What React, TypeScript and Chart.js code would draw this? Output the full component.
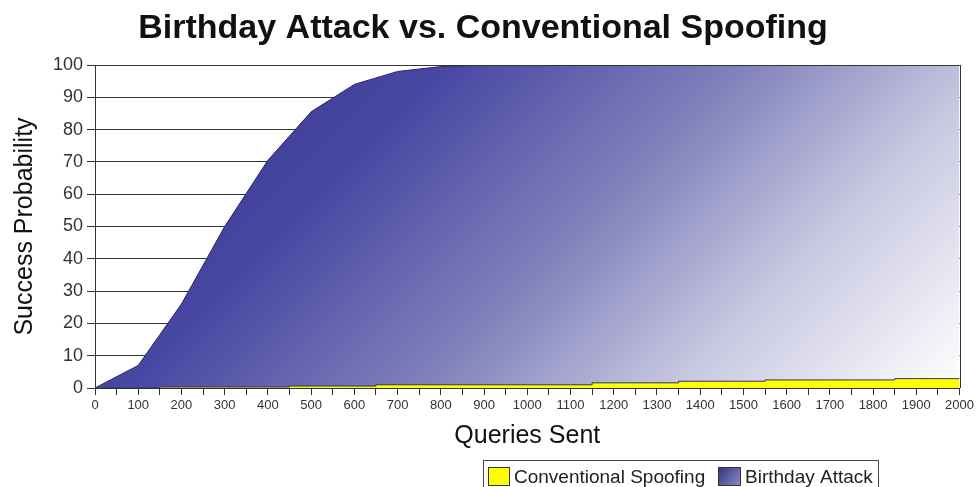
import React, { useEffect, useRef } from 'react';
import { Chart, registerables } from 'chart.js';

Chart.register(...registerables);

const FONT = "'Liberation Sans', Arial, Helvetica, sans-serif";

const chartTitle = 'Birthday Attack vs. Conventional Spoofing';
const xAxisTitle = 'Queries Sent';
const yAxisTitle = 'Success Probability';
const seriesLabels = ['Conventional Spoofing', 'Birthday Attack'];

const queries = [0, 100, 200, 300, 400, 500, 600, 700, 800, 900, 1000, 1100, 1200, 1300, 1400, 1500, 1600, 1700, 1800, 1900, 2000];
const birthdayAttack = [0, 7, 26, 50, 70.5, 85.5, 94, 98, 99.5, 100, 100, 100, 100, 100, 100, 100, 100, 100, 100, 100, 100];
const conventionalSpoofing = [0, 0, 0.3, 0.3, 0.3, 0.6, 0.6, 1.0, 1.0, 1.0, 1.0, 1.0, 1.6, 1.6, 2.1, 2.1, 2.5, 2.5, 2.5, 2.9, 2.9];

const xMin = 0;
const xMax = 2000;
const xMinorStep = 50;
const xLabelStep = 100;
const yMin = 0;
const yMax = 100;
const yStep = 10;

function blueGradient(ctx: CanvasRenderingContext2D, area: { left: number; top: number; right: number; bottom: number }) {
  const d = (area.right - area.left + area.bottom - area.top) / 2;
  const g = ctx.createLinearGradient(area.left, area.top, area.left + d, area.top + d);
  g.addColorStop(0, '#34348a');
  g.addColorStop(0.3, '#4848a3');
  g.addColorStop(0.55, '#8282bc');
  g.addColorStop(0.76, '#c8c8e2');
  g.addColorStop(1, '#ffffff');
  return g;
}

const framePlugin = {
  id: 'frameAndLegend',
  afterDatasetsDraw(chart: any) {
    const { ctx, chartArea } = chart;
    ctx.save();
    ctx.strokeStyle = '#333';
    ctx.lineWidth = 1;
    ctx.beginPath();
    ctx.moveTo(Math.round(chartArea.right) + 0.5, chartArea.top);
    ctx.lineTo(Math.round(chartArea.right) + 0.5, chartArea.bottom);
    ctx.moveTo(chartArea.left, Math.round(chartArea.top) + 0.5);
    ctx.lineTo(chartArea.right, Math.round(chartArea.top) + 0.5);
    ctx.stroke();
    ctx.restore();
  },
  afterDraw(chart: any) {
    const { ctx } = chart;
    ctx.save();
    // title
    ctx.fillStyle = '#111';
    ctx.font = `bold 34px ${FONT}`;
    ctx.textAlign = 'center';
    ctx.textBaseline = 'alphabetic';
    ctx.fillText(chartTitle, 483, 38);

    // legend box
    ctx.strokeStyle = '#444';
    ctx.lineWidth = 1;
    ctx.strokeRect(483.5, 460.5, 395, 40);

    ctx.font = `19px ${FONT}`;
    ctx.textAlign = 'left';
    // item 1
    ctx.fillStyle = '#ffff00';
    ctx.fillRect(488, 467, 21, 18);
    ctx.strokeStyle = '#333';
    ctx.strokeRect(488.5, 467.5, 21, 18);
    ctx.fillStyle = '#222';
    ctx.fillText(seriesLabels[0], 514, 483);
    // item 2
    const g = ctx.createLinearGradient(718, 467, 740, 485);
    g.addColorStop(0, '#30307f');
    g.addColorStop(1, '#8a8ac2');
    ctx.fillStyle = g;
    ctx.fillRect(718, 467, 22, 18);
    ctx.strokeStyle = '#333';
    ctx.strokeRect(718.5, 467.5, 22, 18);
    ctx.fillStyle = '#222';
    ctx.fillText(seriesLabels[1], 745, 483);
    ctx.restore();
  },
};

export default function App() {
  const canvasRef = useRef<HTMLCanvasElement | null>(null);

  useEffect(() => {
    const canvas = canvasRef.current;
    if (!canvas) return;
    const chart = new Chart(canvas, {
      type: 'line',
      data: {
        datasets: [
          {
            label: seriesLabels[0],
            data: queries.map((q, i) => ({ x: q, y: conventionalSpoofing[i] })),
            stepped: 'middle',
            fill: 'origin',
            backgroundColor: '#ffff00',
            borderColor: '#2e2e70',
            borderWidth: 1,
            pointRadius: 0,
          },
          {
            label: seriesLabels[1],
            data: queries.map((q, i) => ({ x: q, y: birthdayAttack[i] })),
            fill: 'origin',
            backgroundColor: (c: any) => {
              const area = c.chart.chartArea;
              if (!area) return '#4848a3';
              return blueGradient(c.chart.ctx, area);
            },
            borderColor: '#26266a',
            borderWidth: 1,
            pointRadius: 0,
            tension: 0,
          },
        ],
      },
      options: {
        animation: false,
        responsive: false,
        maintainAspectRatio: false,
        layout: { padding: { top: 65, right: 15, bottom: 30, left: 0 } },
        plugins: {
          legend: { display: false },
          title: { display: false },
          tooltip: { enabled: false },
        },
        scales: {
          x: {
            type: 'linear',
            min: xMin,
            max: xMax,
            ticks: {
              stepSize: xMinorStep,
              autoSkip: false,
              maxRotation: 0,
              minRotation: 0,
              padding: 3,
              color: '#333',
              font: { family: FONT, size: 13 },
              callback: (v: any) => (Number(v) % xLabelStep === 0 ? String(v) : ''),
            },
            grid: { drawOnChartArea: false, drawTicks: true, tickLength: 7, color: '#333' },
            border: { color: '#333', width: 1 },
            title: {
              display: true,
              text: xAxisTitle,
              color: '#111',
              font: { family: FONT, size: 25 },
              padding: { top: 0, bottom: 6 },
            },
            afterFit: (s: any) => {
              s.height = 69;
            },
          },
          y: {
            min: yMin,
            max: yMax,
            ticks: {
              stepSize: yStep,
              padding: 4,
              color: '#333',
              font: { family: FONT, size: 18 },
            },
            grid: { color: '#333', tickLength: 8 },
            border: { color: '#333', width: 1 },
            title: {
              display: true,
              text: yAxisTitle,
              color: '#111',
              font: { family: FONT, size: 25 },
              padding: { top: 10, bottom: 0 },
            },
            afterFit: (s: any) => {
              s.width = 95;
            },
          },
        },
      } as any,
      plugins: [framePlugin],
    });
    return () => chart.destroy();
  }, []);

  return (
    <div style={{ position: 'absolute', left: 0, top: 0, width: 977, height: 487, background: '#fff' }}>
      <canvas ref={canvasRef} width={977} height={487} style={{ display: 'block' }} />
    </div>
  );
}
